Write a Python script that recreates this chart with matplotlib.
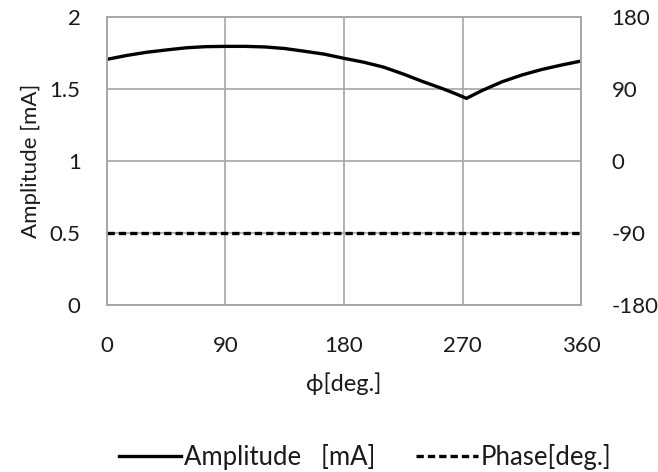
import matplotlib.pyplot as plt
from matplotlib.lines import Line2D

plt.rcParams['font.family'] = ['Lato', 'DejaVu Sans']
plt.rcParams['axes.unicode_minus'] = False

# Messwerte
winkel = [0, 15, 30, 45, 60, 75, 90, 105, 120, 135, 150, 165, 180,
          195, 210, 225, 240, 255, 265, 273, 285, 300, 315, 330, 345, 360]
amplitude = [1.706, 1.733, 1.755, 1.771, 1.786, 1.794, 1.796, 1.796, 1.792,
             1.781, 1.762, 1.742, 1.713, 1.686, 1.652, 1.604, 1.551, 1.502,
             1.466, 1.435, 1.49, 1.55, 1.597, 1.635, 1.666, 1.694]
phase = [-90] * len(winkel)

x_ticks = [0, 90, 180, 270, 360]
y_ticks = [0, 0.5, 1, 1.5, 2]
y2_ticks = [-180, -90, 0, 90, 180]

grau = '#a6a6a6'
textfarbe = '#1a1a1a'

fig = plt.figure(figsize=(6.58, 4.72), dpi=100)
ax = fig.add_axes([0.1626, 0.3538, 0.7204, 0.6102])
ax2 = ax.twinx()

ax.plot(winkel, amplitude, color='black', lw=2.4, solid_joinstyle='miter')
ax2.plot(winkel, phase, color='black', lw=2.4, linestyle=(0, (2.2, 1.2)))

ax.set_xlim(0, 360)
ax.set_ylim(0, 2)
ax2.set_ylim(-180, 180)
ax.set_xticks(x_ticks)
ax.set_yticks(y_ticks)
ax.set_yticklabels(['0', '0.5', '1', '1.5', '2'])
ax2.set_yticks(y2_ticks)

ax.grid(True, color=grau, lw=1.2)
ax.set_axisbelow(True)
for a in (ax, ax2):
    for s in a.spines.values():
        s.set_color(grau)
        s.set_linewidth(1.2)
    a.tick_params(length=0, labelsize=16, colors=textfarbe)
ax.tick_params(axis='x', pad=22)
ax.tick_params(axis='y', pad=19)
ax2.tick_params(axis='y', pad=22)

ax.set_xlabel('ϕ[deg.]', fontsize=17, labelpad=12, color=textfarbe)
ax.set_ylabel('Amplitude [mA]', fontsize=16, labelpad=6, color=textfarbe)

handles = [Line2D([], [], color='black', lw=2.4),
           Line2D([], [], color='black', lw=2.4, linestyle=(0, (2.2, 1.2)))]
fig.legend(handles, ['Amplitude   [mA]', 'Phase[deg.]'], loc='center',
           bbox_to_anchor=(0.555, 0.032), ncol=2, frameon=False, fontsize=18.5,
           handlelength=2.4, handletextpad=0.1, columnspacing=1.6,
           labelcolor=textfarbe)

fig.savefig('out.png', dpi=100)
